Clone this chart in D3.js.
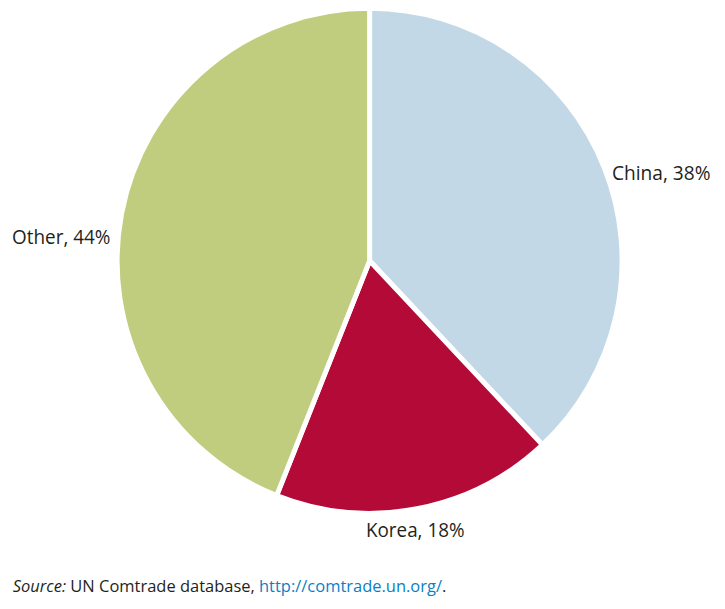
<!DOCTYPE html>
<html><head><meta charset="utf-8">
<script src="https://cdn.jsdelivr.net/npm/d3@7/dist/d3.min.js"></script>
<style>body{margin:0;background:#fff}</style>
</head><body>
<svg id="chart" width="725" height="609"></svg>
<script>
const categories = ["China", "Korea", "Other"];
const values = [38, 18, 44];
const colors = ["#c2d8e7", "#b30a37", "#c0cd7f"];
const labelPos = [[612, 179.5], [366, 536.5], [12, 243.5]];
const sourceParts = [
  {text: "Source:", italic: true, color: "#231f20"},
  {text: " UN Comtrade database, ", italic: false, color: "#231f20"},
  {text: "http://comtrade.un.org/", italic: false, color: "#0a7fc4"},
  {text: ".", italic: false, color: "#231f20"}
];

const svg = d3.select("#chart");
const cx = 369.6, cy = 260.8, r = 252.5;
const font = "'Open Sans', sans-serif";

const pie = d3.pie().sort(null).value(d => d)(values);
const arc = d3.arc().innerRadius(0).outerRadius(r);

const g = svg.append("g").attr("transform", `translate(${cx},${cy})`);
g.selectAll("path").data(pie).join("path")
  .attr("d", arc)
  .attr("fill", (d, i) => colors[i])
  .attr("stroke", "#fff")
  .attr("stroke-width", 5)
  .attr("stroke-linejoin", "miter");

svg.selectAll("text.lbl").data(categories).join("text")
  .attr("class", "lbl")
  .attr("x", (d, i) => labelPos[i][0])
  .attr("y", (d, i) => labelPos[i][1])
  .attr("font-family", font)
  .attr("font-size", 19.5)
  .attr("fill", "#231f20")
  .attr("textLength", 98.5)
  .attr("lengthAdjust", "spacingAndGlyphs")
  .text((d, i) => `${d}, ${values[i]}%`);

const src = svg.append("text")
  .attr("x", 12.7).attr("y", 591.8)
  .attr("font-family", font).attr("font-size", 18);
src.selectAll("tspan").data(sourceParts).join("tspan")
  .attr("font-style", d => d.italic ? "italic" : "normal")
  .attr("fill", d => d.color)
  .style("white-space", "pre")
  .text(d => d.text);
src.attr("xml:space", "preserve");
const w = src.node().getComputedTextLength();
src.attr("font-size", 18 * 434 / w);
</script>
</body></html>
